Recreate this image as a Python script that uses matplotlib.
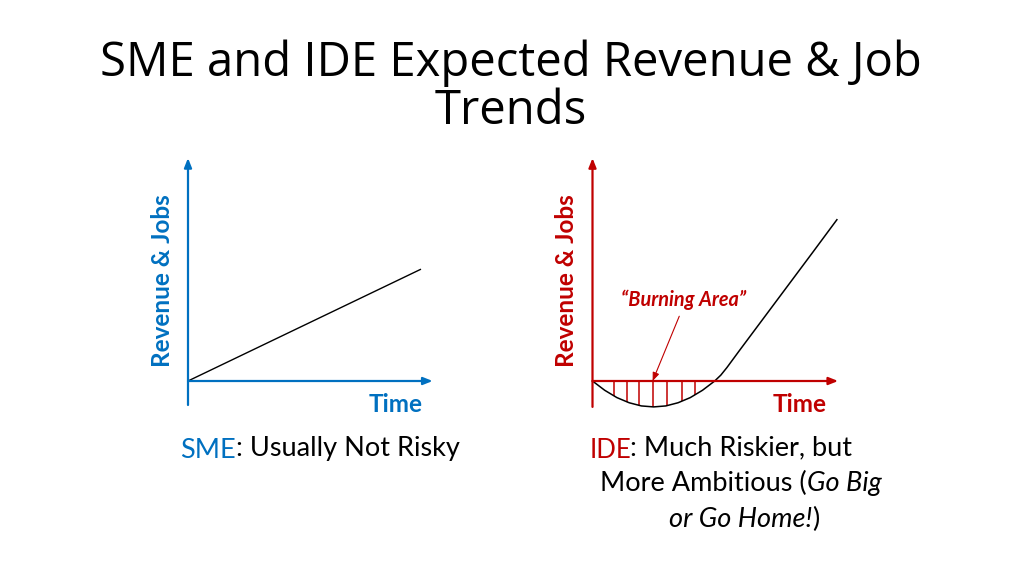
import matplotlib
matplotlib.use("Agg")
import matplotlib.pyplot as plt
import numpy as np

# ---- data ----
sme_time = [0, 10]
sme_value = [0, 4.8]

ide_time = [0, 0.5, 1, 1.5, 2, 2.5, 3, 3.5, 4, 4.5, 5, 5.25, 5.5, 6, 7, 8, 9, 10]
ide_value = [0, -0.38, -0.68, -0.89, -1.02, -1.06, -1.02, -0.89, -0.68, -0.38, 0,
             0.24, 0.55, 1.23, 2.57, 3.91, 5.25, 6.6]
burn_hatch_time = [0.87, 1.40, 1.91, 2.46, 3.04, 3.67, 4.19]

title = "SME and IDE Expected Revenue & Job\nTrends"
ylabel = "Revenue & Jobs"
xlabel = "Time"
burn_label = "\u201cBurning Area\u201d"

BLUE = "#0070C0"
RED = "#C00000"

W, H = 1024, 575
fig = plt.figure(figsize=(W / 100, H / 100), dpi=100)
fig.patch.set_facecolor("white")


def make_ax(ox, oy, s, xlim, ylim):
    x0 = ox + xlim[0] * s
    x1 = ox + xlim[1] * s
    ytop = oy - ylim[1] * s
    ybot = oy - ylim[0] * s
    ax = fig.add_axes([x0 / W, 1 - ybot / H, (x1 - x0) / W, (ybot - ytop) / H])
    ax.set_xlim(xlim)
    ax.set_ylim(ylim)
    ax.axis("off")
    return ax


def draw_axes_arrows(ax, color, xtip, ytip, ybottom):
    ap = dict(arrowstyle="-|>,head_length=0.55,head_width=0.22", color=color,
              lw=1.6, shrinkA=0, shrinkB=0, mutation_scale=10)
    ax.annotate("", xy=(0, ytip), xytext=(0, ybottom), arrowprops=ap, annotation_clip=False)
    ax.annotate("", xy=(xtip, 0), xytext=(0, 0), arrowprops=ap, annotation_clip=False)


def ftext(x, y, s, **kw):
    return fig.text(x / W, 1 - y / H, s, **kw)


# ---- left (SME) ----
axL = make_ax(188, 381, 23.3, (-0.3, 10.8), (-1.3, 9.8))
draw_axes_arrows(axL, BLUE, 10.5, 9.57, -1.03)
axL.plot(sme_time, sme_value, color="black", lw=1.0, solid_capstyle="butt")

# ---- right (IDE) ----
axR = make_ax(592.5, 381, 24.44, (-0.3, 10.4), (-1.3, 9.4))
axR.vlines(burn_hatch_time, np.interp(burn_hatch_time, ide_time, ide_value), 0,
           color=RED, lw=1.1)
draw_axes_arrows(axR, RED, 10.05, 9.12, -1.06)
axR.plot(ide_time, ide_value, color="black", lw=1.1)
axR.annotate("", xy=(2.46, 0), xytext=(3.55, 2.65),
             arrowprops=dict(arrowstyle="-|>,head_length=0.5,head_width=0.2", color=RED,
                             lw=0.8, shrinkA=0, shrinkB=0, mutation_scale=10),
             annotation_clip=False)

# ---- text ----
ftext(511, 87, title, family="Open Sans", fontsize=34, ha="center", va="center",
      linespacing=1.0, color="black")

for cx, col in [(162, BLUE), (567, RED)]:
    ftext(cx, 281, ylabel, family="Lato", weight="bold", fontsize=17.5, color=col,
          rotation=90, ha="center", va="center")
for cx, col in [(396, BLUE), (800, RED)]:
    ftext(cx, 404, xlabel, family="Lato", weight="bold", fontsize=17.5, color=col,
          ha="center", va="center")

ftext(684, 300, burn_label, family="Lato", weight="bold", style="italic", fontsize=14.3,
      color=RED, ha="center", va="center")

CAP = 19.5
ftext(180, 458, "SME", family="Lato", fontsize=CAP, color=BLUE, ha="left", va="baseline")
ftext(236, 456, ": Usually Not Risky", family="Lato", fontsize=CAP, color="black",
      ha="left", va="baseline")

ftext(590, 458, "IDE", family="Lato", fontsize=18.5, color=RED, ha="left", va="baseline")
ftext(630, 455, ": Much Riskier, but", family="Lato", fontsize=CAP, color="black",
      ha="left", va="baseline")

renderer = fig.canvas.get_renderer()


def runs_text(runs, cx, by):
    objs = []
    for s, style in runs:
        objs.append(ftext(0, by, s, family="Lato", fontsize=CAP, style=style,
                          color="black", ha="left", va="baseline"))
    widths = [o.get_window_extent(renderer).width for o in objs]
    x = cx - sum(widths) / 2
    for o, w in zip(objs, widths):
        o.set_x(x / W)
        x += w


runs_text([("More Ambitious (", "normal"), ("Go Big", "italic")], 741, 491)
runs_text([("or Go Home!", "italic"), (")", "normal")], 744, 527)

fig.savefig("out.png", dpi=100, facecolor="white")
